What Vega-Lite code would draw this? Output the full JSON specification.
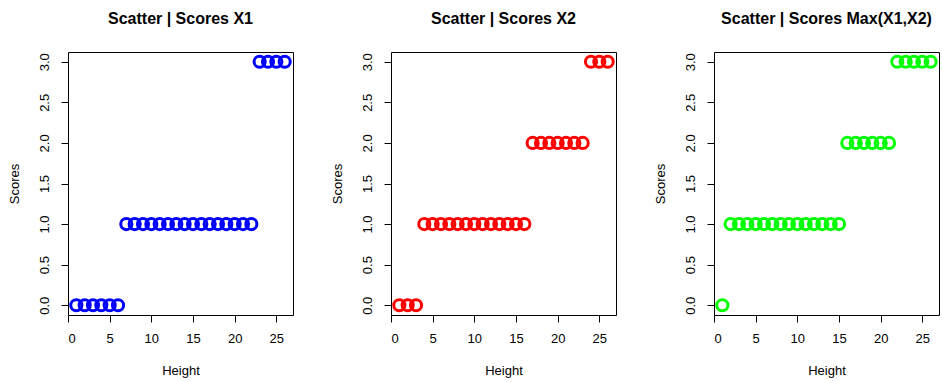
{
  "$schema": "https://vega.github.io/schema/vega-lite/v6.json",
  "padding": {"left": 7, "top": 10, "right": 0, "bottom": 5},
  "bounds": "flush",
  "spacing": 98,
  "config": {
    "font": "Liberation Sans",
    "view": {"stroke": "black", "strokeWidth": 1},
    "axis": {
      "grid": false,
      "domain": false,
      "tickColor": "black",
      "tickSize": 7,
      "labelColor": "black",
      "labelFont": "Liberation Sans",
      "labelFontSize": 13,
      "titleFont": "Liberation Sans",
      "titleFontSize": 13,
      "titleFontWeight": "normal",
      "titleColor": "black"
    },
    "axisX": {"labelPadding": 10, "titlePadding": 19},
    "axisY": {"labelAngle": -90, "labelPadding": 10, "titlePadding": 17},
    "title": {"fontSize": 16, "fontWeight": "bold", "color": "black", "offset": 23, "font": "Liberation Sans"}
  },
  "data": {"values": [
    {"h": 1, "s1": 0, "s2": 0, "s3": 0},
    {"h": 2, "s1": 0, "s2": 0, "s3": 1},
    {"h": 3, "s1": 0, "s2": 0, "s3": 1},
    {"h": 4, "s1": 0, "s2": 1, "s3": 1},
    {"h": 5, "s1": 0, "s2": 1, "s3": 1},
    {"h": 6, "s1": 0, "s2": 1, "s3": 1},
    {"h": 7, "s1": 1, "s2": 1, "s3": 1},
    {"h": 8, "s1": 1, "s2": 1, "s3": 1},
    {"h": 9, "s1": 1, "s2": 1, "s3": 1},
    {"h": 10, "s1": 1, "s2": 1, "s3": 1},
    {"h": 11, "s1": 1, "s2": 1, "s3": 1},
    {"h": 12, "s1": 1, "s2": 1, "s3": 1},
    {"h": 13, "s1": 1, "s2": 1, "s3": 1},
    {"h": 14, "s1": 1, "s2": 1, "s3": 1},
    {"h": 15, "s1": 1, "s2": 1, "s3": 1},
    {"h": 16, "s1": 1, "s2": 1, "s3": 2},
    {"h": 17, "s1": 1, "s2": 2, "s3": 2},
    {"h": 18, "s1": 1, "s2": 2, "s3": 2},
    {"h": 19, "s1": 1, "s2": 2, "s3": 2},
    {"h": 20, "s1": 1, "s2": 2, "s3": 2},
    {"h": 21, "s1": 1, "s2": 2, "s3": 2},
    {"h": 22, "s1": 1, "s2": 2, "s3": 3},
    {"h": 23, "s1": 3, "s2": 2, "s3": 3},
    {"h": 24, "s1": 3, "s2": 3, "s3": 3},
    {"h": 25, "s1": 3, "s2": 3, "s3": 3},
    {"h": 26, "s1": 3, "s2": 3, "s3": 3}
  ]},
  "hconcat": [
    {
      "title": "Scatter | Scores X1",
      "width": 225, "height": 263,
      "mark": {"type": "point", "filled": false, "strokeWidth": 3, "size": 125, "color": "#0000FF", "opacity": 1},
      "encoding": {
        "x": {"field": "h", "type": "quantitative", "title": "Height", "scale": {"domain": [0, 27], "nice": false, "zero": false}, "axis": {"values": [0, 5, 10, 15, 20, 25]}},
        "y": {"field": "s1", "type": "quantitative", "title": "Scores", "scale": {"domain": [-0.12, 3.12], "nice": false, "zero": false}, "axis": {"values": [0, 0.5, 1, 1.5, 2, 2.5, 3], "format": ".1f"}}
      }
    },
    {
      "title": "Scatter | Scores X2",
      "width": 225, "height": 263,
      "mark": {"type": "point", "filled": false, "strokeWidth": 3, "size": 125, "color": "#FF0000", "opacity": 1},
      "encoding": {
        "x": {"field": "h", "type": "quantitative", "title": "Height", "scale": {"domain": [0, 27], "nice": false, "zero": false}, "axis": {"values": [0, 5, 10, 15, 20, 25]}},
        "y": {"field": "s2", "type": "quantitative", "title": "Scores", "scale": {"domain": [-0.12, 3.12], "nice": false, "zero": false}, "axis": {"values": [0, 0.5, 1, 1.5, 2, 2.5, 3], "format": ".1f"}}
      }
    },
    {
      "title": "Scatter | Scores Max(X1,X2)",
      "width": 225, "height": 263,
      "mark": {"type": "point", "filled": false, "strokeWidth": 3, "size": 125, "color": "#00FF00", "opacity": 1},
      "encoding": {
        "x": {"field": "h", "type": "quantitative", "title": "Height", "scale": {"domain": [0, 27], "nice": false, "zero": false}, "axis": {"values": [0, 5, 10, 15, 20, 25]}},
        "y": {"field": "s3", "type": "quantitative", "title": "Scores", "scale": {"domain": [-0.12, 3.12], "nice": false, "zero": false}, "axis": {"values": [0, 0.5, 1, 1.5, 2, 2.5, 3], "format": ".1f"}}
      }
    }
  ]
}
